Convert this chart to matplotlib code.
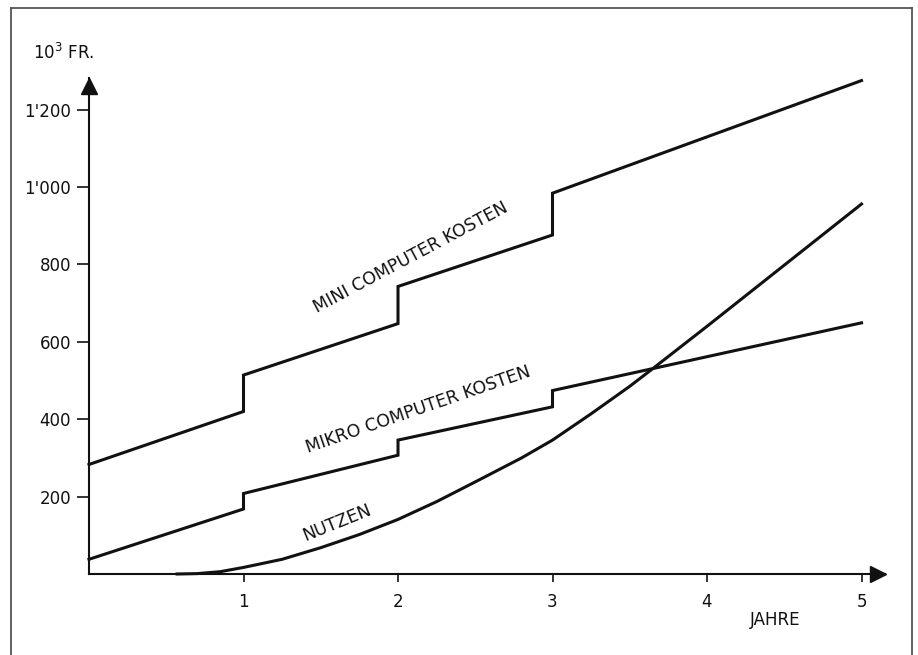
import matplotlib.pyplot as plt
from matplotlib.lines import Line2D

# values (10^3 Fr. per year)
years_steps = [0, 1, 1, 2, 2, 3, 3, 5]
mini_kosten = [283, 420, 514, 647, 743, 876, 984, 1275]
mikro_kosten = [38, 168, 208, 307, 346, 432, 474, 649]

years_nutzen = [0.57, 0.7, 0.85, 1.0, 1.25, 1.5, 1.75, 2.0, 2.25, 2.5, 2.8, 3.0, 3.25, 3.5, 3.65, 4.0, 4.5, 5.0]
nutzen = [0, 1, 6, 17, 38, 68, 102, 141, 187, 238, 300, 346, 414, 485, 531, 640, 798, 956]

x_ticks = [1, 2, 3, 4, 5]
y_ticks = [200, 400, 600, 800, 1000, 1200]
y_labels = ["200", "400", "600", "800", "1'000", "1'200"]

W, H = 918, 655
fig = plt.figure(figsize=(W / 100, H / 100), dpi=100)
fig.patch.set_facecolor('white')

# axes placed in pixels: origin at (89, 574), x arrow tip 885, y arrow tip 78
x0, y0, x1, y1 = 89, 574, 885, 78
ax = fig.add_axes([x0 / W, (H - y0) / H, (x1 - x0) / W, (y0 - y1) / H])
ax.set_xlim(0, (x1 - x0) / 154.5)
ax.set_ylim(0, (y0 - y1) / 0.387)
ax.patch.set_alpha(0)

for s in ['top', 'right']:
    ax.spines[s].set_visible(False)
for s in ['left', 'bottom']:
    ax.spines[s].set_linewidth(1.5)
    ax.spines[s].set_color('#111111')

# arrow heads on the axes, tips at the spine ends
half = 7.5
ax.plot(1 - half / (x1 - x0), 0, marker='>', color='#111111', markersize=11,
        transform=ax.transAxes, clip_on=False)
ax.plot(0, 1 - half / (y0 - y1), marker='^', color='#111111', markersize=11,
        transform=ax.transAxes, clip_on=False)

ax.set_xticks(x_ticks)
ax.set_xticklabels([str(t) for t in x_ticks])
ax.set_yticks(y_ticks)
ax.set_yticklabels(y_labels)
ax.tick_params(axis='x', direction='out', length=6, width=1.2, pad=8, labelsize=12, colors='#111111')
ax.tick_params(axis='y', direction='out', length=9, width=1.2, pad=4, labelsize=12, colors='#111111')

lw = 2.2
ax.plot(years_steps, mini_kosten, color='#111111', lw=lw, clip_on=False, solid_joinstyle='miter')
ax.plot(years_steps, mikro_kosten, color='#111111', lw=lw, clip_on=False, solid_joinstyle='miter')
ax.plot(years_nutzen, nutzen, color='#111111', lw=lw, clip_on=False)

ax.text(2.08, 817, 'MINI COMPUTER KOSTEN', rotation=28, rotation_mode='anchor',
        ha='center', va='center', fontsize=12.5, color='#111111')
ax.text(2.13, 425, 'MIKRO COMPUTER KOSTEN', rotation=19, rotation_mode='anchor',
        ha='center', va='center', fontsize=12.5, color='#111111')
ax.text(1.605, 132, 'NUTZEN', rotation=22, rotation_mode='anchor',
        ha='center', va='center', fontsize=12.5, color='#111111')

fig.text(775 / W, 1 - 620 / H, 'JAHRE', ha='center', va='center', fontsize=12, color='#111111')
fig.text(33 / W, 1 - 53 / H, r'10$^3$ FR.', ha='left', va='center', fontsize=12, color='#111111')

# frame around the drawing (bottom edge is outside the scan)
frame_kw = dict(color='#555555', lw=1.3, transform=fig.transFigure)
fig.add_artist(Line2D([11 / W, 11 / W], [0, 1 - 8 / H], **frame_kw))
fig.add_artist(Line2D([11 / W, 912 / W], [1 - 8 / H, 1 - 8 / H], **frame_kw))
fig.add_artist(Line2D([912 / W, 912 / W], [1 - 8 / H, 0], **frame_kw))

fig.savefig('out.png', dpi=100, facecolor='white')
